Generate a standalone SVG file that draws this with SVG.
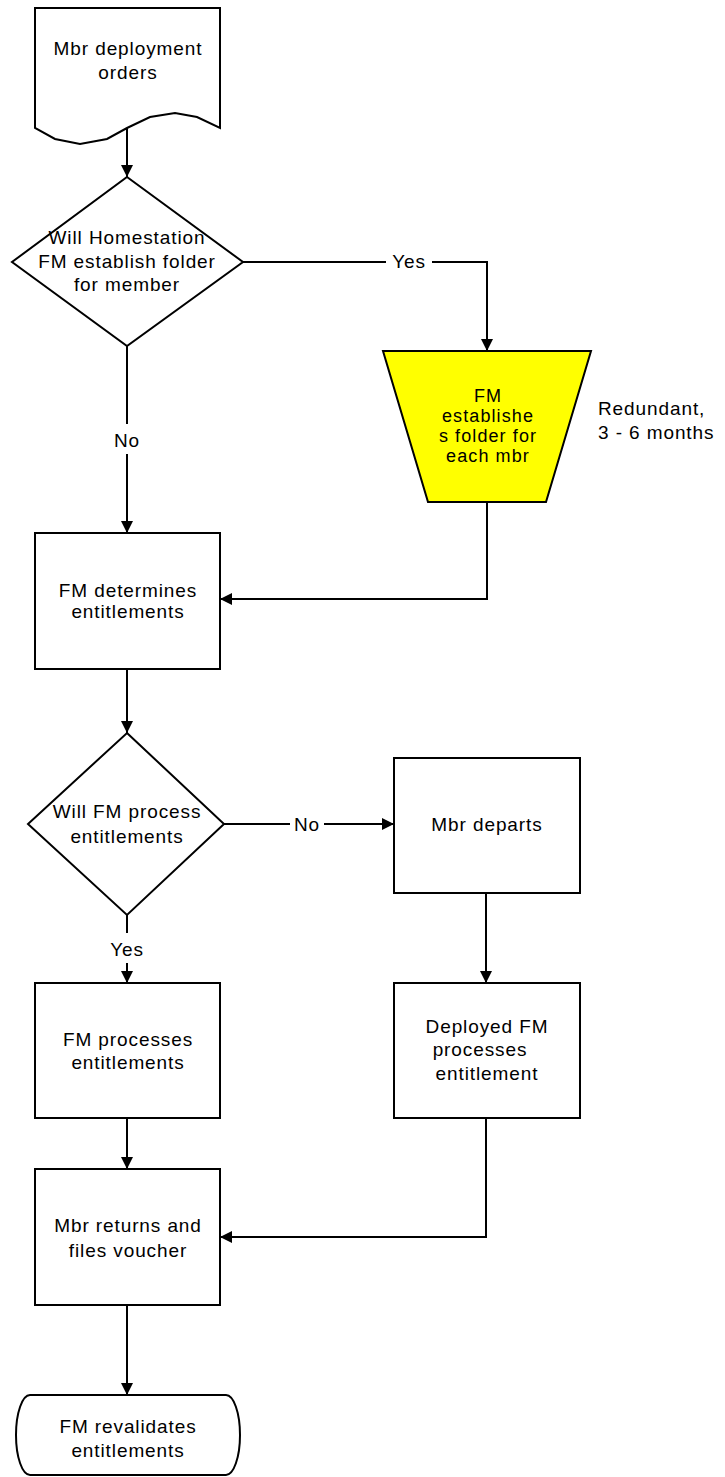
<svg xmlns="http://www.w3.org/2000/svg" width="725" height="1477" viewBox="0 0 725 1477">
<style>
.n{fill:#fff;stroke:#000;stroke-width:2;stroke-linejoin:miter}
.y{fill:#ffff00;stroke:#000;stroke-width:2}
.c{fill:none;stroke:#000;stroke-width:2}
text{font-family:"Liberation Sans",Arial,sans-serif;font-size:19px;letter-spacing:0.9px;fill:#000;text-anchor:middle}
.s{font-size:18px;letter-spacing:1.1px}
.l{text-anchor:start}
</style>
<defs>
<marker id="a" markerUnits="userSpaceOnUse" markerWidth="12" markerHeight="12" refX="12" refY="6" orient="auto">
<path d="M0,0 L12,6 L0,12 z" fill="#000"/>
</marker>
</defs>
<rect width="725" height="1477" fill="#fff"/>
<g id="connectors">
<path class="c" d="M127,128 V177" marker-end="url(#a)"/>
<path class="c" d="M243,262 H386 M432,262 H487 V351" marker-end="url(#a)"/>
<path class="c" d="M127,346 V424 M127,454 V533" marker-end="url(#a)"/>
<path class="c" d="M487,502 V599 H220" marker-end="url(#a)"/>
<path class="c" d="M127,669 V733" marker-end="url(#a)"/>
<path class="c" d="M224,824 H290 M324,824 H394" marker-end="url(#a)"/>
<path class="c" d="M127,915 V933 M127,963 V983" marker-end="url(#a)"/>
<path class="c" d="M486,893 V983" marker-end="url(#a)"/>
<path class="c" d="M127,1118 V1169" marker-end="url(#a)"/>
<path class="c" d="M486,1118 V1237 H220" marker-end="url(#a)"/>
<path class="c" d="M127,1305 V1395" marker-end="url(#a)"/>
<text x="409" y="268">Yes</text>
<text x="127" y="447">No</text>
<text x="307" y="831">No</text>
<text x="127" y="956">Yes</text>
</g>
<g id="orders">
<path class="n" d="M35,8 H220 V128 L197,117 L175,113 L150,117 L127,128 L107,139 L80,144 L55,139 L35,128 Z"/>
<text x="128" y="55">Mbr deployment</text>
<text x="128" y="79">orders</text>
</g>
<g id="decision1">
<path class="n" d="M127,177 L243,262 L127,346 L12,262 Z"/>
<text x="127" y="244">Will Homestation</text>
<text x="127" y="268">FM establish folder</text>
<text x="127" y="291">for member</text>
</g>
<g id="establish">
<path class="y" d="M383,351 H591 L546,502 H428 Z"/>
<text class="s" x="488" y="402">FM</text>
<text class="s" x="488" y="422">establishe</text>
<text class="s" x="488" y="442">s folder for</text>
<text class="s" x="488" y="462">each mbr</text>
</g>
<g id="note">
<text class="l" x="598" y="415">Redundant,</text>
<text class="l" x="598" y="439">3 - 6 months</text>
</g>
<g id="determines">
<rect class="n" x="35" y="533" width="185" height="136"/>
<text x="128" y="597">FM determines</text>
<text x="128" y="618">entitlements</text>
</g>
<g id="decision2">
<path class="n" d="M127,733 L224,824 L127,915 L28,824 Z"/>
<text x="127" y="818">Will FM process</text>
<text x="127" y="843">entitlements</text>
</g>
<g id="departs">
<rect class="n" x="394" y="758" width="186" height="135"/>
<text x="487" y="831">Mbr departs</text>
</g>
<g id="deployedfm">
<rect class="n" x="394" y="983" width="186" height="135"/>
<text x="487" y="1033">Deployed FM</text>
<text x="480" y="1056">processes</text>
<text x="487" y="1080">entitlement</text>
</g>
<g id="processes">
<rect class="n" x="35" y="983" width="185" height="135"/>
<text x="128" y="1046">FM processes</text>
<text x="128" y="1069">entitlements</text>
</g>
<g id="returns">
<rect class="n" x="35" y="1169" width="185" height="136"/>
<text x="128" y="1232">Mbr returns and</text>
<text x="128" y="1257">files voucher</text>
</g>
<g id="revalidates">
<path class="n" d="M30,1395 H226 A14,40 0 0 1 226,1475 H30 A14,40 0 0 1 30,1395 Z"/>
<text x="128" y="1433">FM revalidates</text>
<text x="128" y="1457">entitlements</text>
</g>
</svg>
